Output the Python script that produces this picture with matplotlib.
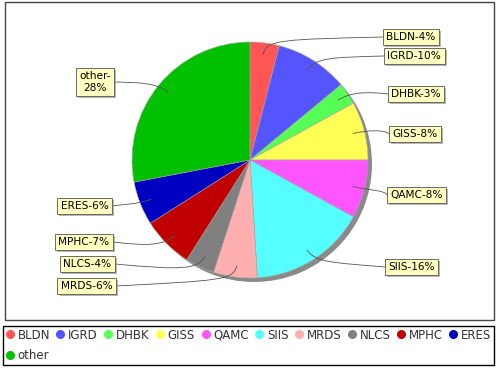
import numpy as np
import matplotlib.pyplot as plt
from matplotlib.path import Path
from matplotlib.patches import PathPatch, Rectangle
from matplotlib.lines import Line2D
import matplotlib.patheffects as pe

# Datos del gráfico
categories = ["BLDN", "IGRD", "DHBK", "GISS", "QAMC", "SIIS",
              "MRDS", "NLCS", "MPHC", "ERES", "other"]
shares = [4, 10, 3, 8, 8, 16, 6, 4, 7, 6, 28]
colors = ["#ff5555", "#5555ff", "#55ff55", "#ffff55", "#ff55ff", "#55ffff",
          "#ffafaf", "#808080", "#c00000", "#0000c0", "#00c000"]

# Posición de las etiquetas (borde de la caja hacia el pastel, centro y) en píxeles
label_pos = [(383, 37), (384, 56), (388, 94), (389, 134), (387, 195), (385, 267),
             (116, 286), (115, 264), (113, 242), (112, 206), (114, 82)]
label_side = [1, 1, 1, 1, 1, 1, -1, -1, -1, -1, -1]

# -------------------------------------------------------------------------------
W, H = 500, 370
cx, cy, R = 250, 160, 118
fs = 7.6
pad_px = 0.32 * fs * 100 / 72

fig = plt.figure(figsize=(W / 100, H / 100), dpi=100)
ax = fig.add_axes([0, 0, 1, 1])

# Sombra del pastel
ax.pie([1], colors=["#8a8a8a"], radius=R, center=(cx + 4, H - cy - 4),
       wedgeprops=dict(linewidth=0))

# Pastel
ax.pie(shares, colors=colors, startangle=90, counterclock=False, radius=R,
       center=(cx, H - cy), wedgeprops=dict(edgecolor="#a8a8a8", linewidth=0.4))

# Etiquetas con líneas curvas
total = sum(shares)
cum = np.cumsum(shares)
for i, (cat, s) in enumerate(zip(categories, shares)):
    mid = (cum[i] - s / 2) / total * 2 * np.pi
    dx, dy = np.sin(mid), np.cos(mid)
    link = (cx + 0.9 * R * dx, H - cy + 0.9 * R * dy)
    elbow = (cx + 1.03 * R * dx, H - cy + 1.03 * R * dy)
    side = label_side[i]
    ex, ey = label_pos[i]
    target = (ex, H - ey)
    ctrl = (elbow[0] + side * 18, elbow[1])
    path = Path([target, ctrl, elbow, link],
                [Path.MOVETO, Path.CURVE4, Path.CURVE4, Path.CURVE4])
    ax.add_patch(PathPatch(path, fc="none", ec="#555555", lw=0.6, zorder=3))

    txt = f"{cat}-{s}%" if cat != "other" else f"{cat}-\n{s}%"
    t = ax.text(ex + side * pad_px, H - ey, txt, fontsize=fs,
                ha="left" if side > 0 else "right", va="center",
                multialignment="center", zorder=5,
                bbox=dict(boxstyle="square,pad=0.32", fc="#ffffc0", ec="#555555", lw=0.6))
    t.get_bbox_patch().set_path_effects(
        [pe.SimplePatchShadow(offset=(1.5, -1.5), shadow_rgbFace="#999999", alpha=0.7),
         pe.Normal()])

# Borde del área del gráfico
ax.add_patch(Rectangle((5, H - 320), 489, 318, fill=False, ec="#444444", lw=1.0))

# Leyenda (orden por columnas: la primera columna lleva BLDN y other)
handles = [Line2D([], [], marker="o", ls="none", markersize=5.5,
                  markerfacecolor=c, markeredgecolor=c) for c in colors]
order = [0, 10] + list(range(1, 10))
leg = ax.legend([handles[k] for k in order], [categories[k] for k in order],
                ncol=10, loc="upper left",
                bbox_to_anchor=(3, H - 367, 491, 41), bbox_transform=ax.transData,
                mode="expand", fontsize=8.5, handlelength=0.7, handletextpad=0.3,
                columnspacing=0.5, borderaxespad=0, borderpad=0.22,
                labelspacing=0.65, fancybox=False, framealpha=1,
                edgecolor="black", labelcolor="#333333")
leg.get_frame().set_linewidth(1.0)

ax.set_xlim(0, W)
ax.set_ylim(0, H)
ax.set_aspect("auto")
ax.axis("off")

plt.savefig("out.png", dpi=100)
